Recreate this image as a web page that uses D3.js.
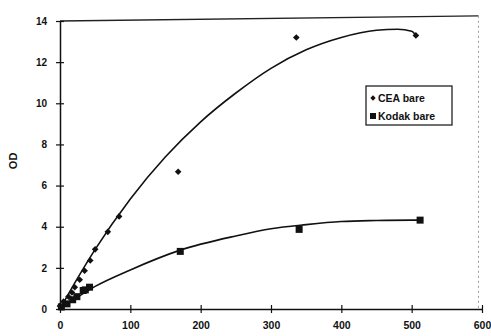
<!DOCTYPE html>
<html><head><meta charset="utf-8">
<script src="https://cdn.jsdelivr.net/npm/d3@7"></script>
<style>body{margin:0;background:#fff}svg{display:block}text{font-family:"Liberation Sans",Arial,sans-serif;font-weight:bold;fill:#111}</style>
</head><body>
<script>
// Data
const xTicks = [0,100,200,300,400,500,600];
const yTicks = [0,2,4,6,8,10,12,14];
const ceaX = [0,5,12,17,21,28,35,43,50,68,84,168,336,506];
const ceaY = [0.15,0.36,0.6,0.8,1.06,1.42,1.86,2.36,2.9,3.75,4.5,6.67,13.2,13.3];
const kodakX = [2,10,18,24,33,36,42,171,340,512];
const kodakY = [0.1,0.25,0.45,0.6,0.9,0.93,1.06,2.8,3.87,4.32];
const ceaFitX = [0,25,50,100,150,200,250,300,350,400,450,480,500,506];
const ceaFitY = [0,1.5,2.9,5.35,7.4,9.1,10.5,11.7,12.6,13.2,13.55,13.6,13.5,13.3];
const kodakFitX = [0,50,100,170,250,300,350,400,450,500,512];
const kodakFitY = [0,1.1,1.9,2.85,3.55,3.9,4.1,4.25,4.3,4.32,4.32];
const legendLabels = ["CEA bare","Kodak bare"];
const yTitle = "OD";

const W=491,H=336;
const svg=d3.select("body").append("svg").attr("width",W).attr("height",H);
const x=d3.scaleLinear().domain([0,600]).range([60,482]);
const y=d3.scaleLinear().domain([0,14]).range([309,21]);

// frame top and right
svg.append("line").attr("x1",x(0)).attr("x2",x(595)).attr("y1",y(14)).attr("y2",y(14.25)).attr("stroke","#222").attr("stroke-width",1.3);
svg.append("line").attr("x1",x(595)).attr("x2",x(595)).attr("y1",y(14.25)).attr("y2",y(0)).attr("stroke","#999").attr("stroke-width",1).attr("stroke-dasharray","2,3");

// axes
const xa=svg.append("g").attr("transform",`translate(0,${y(0)})`)
  .call(d3.axisBottom(x).tickValues(xTicks).tickSize(0).tickPadding(13).tickFormat(d3.format("d")));
xa.select(".domain").attr("stroke","#111").attr("stroke-width",1.5);
xa.selectAll(".tick").append("line").attr("y1",-4).attr("y2",4).attr("stroke","#111").attr("stroke-width",1.2);
xa.selectAll("text").attr("font-size",10.5).style("font-weight","bold");
const ya=svg.append("g").attr("transform",`translate(${x(0)},0)`)
  .call(d3.axisLeft(y).tickValues(yTicks).tickSize(0).tickPadding(13).tickFormat(d3.format("d")));
ya.select(".domain").attr("stroke","#111").attr("stroke-width",1.5);
ya.selectAll(".tick").append("line").attr("x1",-4).attr("x2",4).attr("stroke","#111").attr("stroke-width",1.2);
ya.selectAll("text").attr("font-size",10).style("font-weight","bold");
xa.selectAll("text").attr("font-family","Liberation Sans");
ya.selectAll("text").attr("font-family","Liberation Sans");
svg.append("text").attr("transform",`translate(17,${y(7.2)}) rotate(-90)`).attr("text-anchor","middle").attr("font-size",11).text(yTitle);

// fit curves
const line=d3.line().x(d=>x(d[0])).y(d=>y(d[1])).curve(d3.curveMonotoneX);
svg.append("path").attr("d",line(d3.zip(ceaFitX,ceaFitY))).attr("fill","none").attr("stroke","#111").attr("stroke-width",1.6);
svg.append("path").attr("d",line(d3.zip(kodakFitX,kodakFitY))).attr("fill","none").attr("stroke","#111").attr("stroke-width",1.6);

// markers
const dia=d3.symbol().type(d3.symbolSquare).size(22);
svg.append("g").selectAll("path").data(d3.zip(ceaX,ceaY)).join("path")
  .attr("d",dia).attr("transform",d=>`translate(${x(d[0])},${y(d[1])}) rotate(45)`).attr("fill","#111");
svg.append("g").selectAll("rect").data(d3.zip(kodakX,kodakY)).join("rect")
  .attr("x",d=>x(d[0])-3.5).attr("y",d=>y(d[1])-3.5).attr("width",7).attr("height",7).attr("fill","#111");

// legend
const lg=svg.append("g").attr("transform","translate(366,86)");
lg.append("rect").attr("width",86).attr("height",39).attr("fill","#fff").attr("stroke","#222").attr("stroke-width",1.3);
lg.append("path").attr("d",d3.symbol().type(d3.symbolSquare).size(14)).attr("transform","translate(7,12) rotate(45)").attr("fill","#111");
lg.append("rect").attr("x",4).attr("y",27).attr("width",6).attr("height",6).attr("fill","#111");
lg.selectAll("text").data(legendLabels).join("text").attr("x",12).attr("y",(d,i)=>16+i*18).attr("font-size",10.5).text(d=>d);
</script>
</body></html>
